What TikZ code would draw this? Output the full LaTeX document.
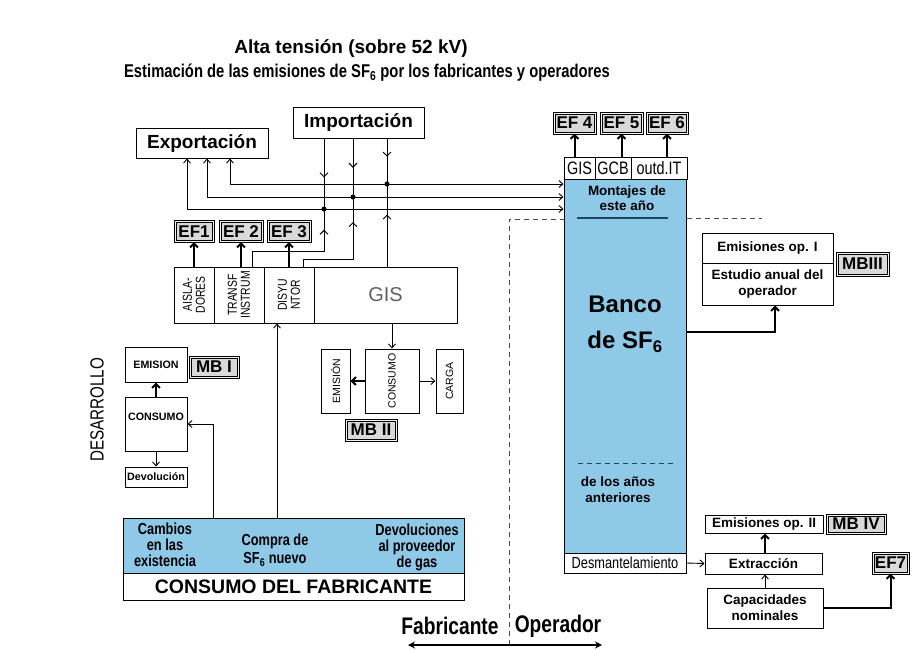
\documentclass[tikz,border=0pt]{standalone}
\usepackage{fontspec}
\setmainfont{Liberation Sans}
\newfontfamily\cnd{Liberation Sans}[FakeStretch=0.8]
\usetikzlibrary{arrows.meta,decorations.markings}
\definecolor{bankblue}{RGB}{142,201,232}
\definecolor{linedark}{RGB}{30,70,100}
\newcommand\fsz[2]{\fontsize{#1}{#2}\selectfont}
\tikzset{
  box/.style={draw, line width=1pt, inner sep=0pt},
  efbox/.style={draw, line width=1.1pt, double=gray!10, double distance=0.8pt, fill=gray!30, inner sep=0pt, minimum height=20pt, font=\bfseries\fsz{17}{17}},
  arr/.style={-{Straight Barb[length=4pt,width=7pt]}, line width=0.9pt},
  thickarr/.style={-{Straight Barb[length=4pt,width=8pt]}, line width=2pt},
  biarr/.style={{Straight Barb[length=4pt,width=7pt]}-{Straight Barb[length=4pt,width=7pt]}, line width=0.9pt},
  midarr/.style={postaction={decorate}, decoration={markings, mark=at position #1 with {\arrow{Straight Barb[length=4pt,width=8pt]}}}},
  dot/.style={circle, fill, inner sep=0pt, minimum size=5pt},
  sep/.style={dash pattern=on 5pt off 4pt, line width=1pt, gray!60!black}
}
\begin{document}
\begin{tikzpicture}[x=1pt,y=-1pt, font=\bfseries\fsz{12}{14}]
\useasboundingbox (0,0) rectangle (912,649);

% titles
\node[font=\bfseries\fsz{19}{21}] (title) at (351,48) {Alta tensión (sobre 52 kV)};
\node[font=\cnd\bfseries\fsz{18.5}{21}] (subtitle) at (367,73) {Estimación de las emisiones de SF\textsubscript{6} por los fabricantes y operadores};

% import / export
\node[box, minimum width=132pt, minimum height=30pt, font=\bfseries\fsz{19}{21}] (exp) at (202,143) {Exportación};
\node[box, minimum width=131pt, minimum height=31pt, font=\bfseries\fsz{19}{21}] (imp) at (358.5,122.5) {Importación};

% manufacturer blocks
\node[box, minimum width=40pt, minimum height=56pt] (aisl) at (194,295) {};
\node[box, minimum width=50pt, minimum height=56pt] (trans) at (239,295) {};
\node[box, minimum width=50pt, minimum height=56pt] (disy) at (289,295) {};
\node[box, minimum width=143pt, minimum height=56pt, font=\fsz{20}{20}, text=gray!75!black] (gis) at (385.5,295) {GIS};
\node[rotate=90, align=center, font=\cnd\fsz{13}{13}] (aisltxt) at (aisl) {AISLA-\\DORES};
\node[rotate=90, align=center, font=\cnd\fsz{13}{13}] (transtxt) at (trans) {TRANSF\\INSTRUM};
\node[rotate=90, align=center, font=\cnd\fsz{13}{13}] (disytxt) at (disy) {DISYU\\NTOR};

\node[efbox, minimum width=38pt] (efone) at (194,231.5) {EF1};
\node[efbox, minimum width=42pt] (eftwo) at (241,231.5) {EF 2};
\node[efbox, minimum width=42pt] (efthree) at (289,231.5) {EF 3};
\draw[thickarr] (aisl.north) -- (efone.south);
\draw[thickarr] (trans.north -| eftwo.south) -- (eftwo.south);
\draw[thickarr] (disy.north) -- (efthree.south);

% bank of SF6
\node[box, fill=bankblue, minimum width=122pt, minimum height=374pt] (bank) at (625,366) {};
\node[box, minimum width=31pt, minimum height=22pt, font=\cnd\fsz{18}{18}] (hgis) at (579.5,168) {GIS};
\node[box, minimum width=36pt, minimum height=22pt, font=\cnd\fsz{18}{18}] (hgcb) at (613,168) {GCB};
\node[box, minimum width=56pt, minimum height=22pt, font=\cnd\fsz{18}{18}] (hout) at (659,168) {outd.IT};
\node[box, fill=white, minimum width=122pt, minimum height=20pt, font=\cnd\fsz{16}{16}] (desm) at (625,563) {Desmantelamiento};
\node[align=center, font=\bfseries\fsz{13.5}{15.5}] (montajes) at (627,198) {Montajes de\\este año};
\node[align=center, font=\bfseries\fsz{24}{36}] (banco) at (625,324) {Banco\\de SF\textsubscript{6}};
\node[align=center, font=\bfseries\fsz{13.5}{16}] (anteriores) at (618,490) {de los años\\anteriores};
\draw[line width=1.3pt, linedark] (577,218) -- (668,218);
\draw[sep, linedark] (578,463) -- (675,463);

\node[efbox, minimum width=41pt] (effour) at (574.5,123) {EF 4};
\node[efbox, minimum width=41pt] (effive) at (621.5,123) {EF 5};
\node[efbox, minimum width=40pt] (efsix) at (667,123) {EF 6};
\draw[thickarr] (hgis.north -| effour.south) -- (effour.south);
\draw[thickarr] (hgcb.north -| effive.south) -- (effive.south);
\draw[thickarr] (hout.north -| efsix.south) -- (efsix.south);

% import / export lines
\coordinate (ca) at (324,209);
\coordinate (cb) at (353,197);
\coordinate (cc) at (387,184);
\draw[biarr] (exp.south -| 230,0) |- (cc -| bank.west);
\draw[biarr] (exp.south -| 207,0) |- (cb -| bank.west);
\draw[biarr] (exp.south -| 187,0) |- (ca -| bank.west);
\draw[line width=0.9pt, midarr=0.55] (imp.south -| ca) -- (ca);
\draw[line width=0.9pt, midarr=0.5] (imp.south -| cb) -- (cb);
\draw[line width=0.9pt, midarr=0.4] (imp.south -| cc) -- (cc);
\draw[line width=0.9pt, midarr=0.84] (trans.north -| 252,0) -- ++(0,-15) -| (ca);
\draw[line width=0.9pt, midarr=0.79] (disy.north -| 303,0) -- ++(0,-7) -| (cb);
\draw[line width=0.9pt, midarr=0.63] (gis.north -| cc) -- (cc);
\node[dot] (da) at (ca) {};
\node[dot] (db) at (cb) {};
\node[dot] (dc) at (cc) {};

% development
\node[rotate=90, font=\cnd\fsz{19}{19}] (desarrollo) at (97,410) {DESARROLLO};
\node[box, minimum width=62pt, minimum height=35pt, font=\bfseries\fsz{10.7}{10.7}] (emis) at (156,364.5) {EMISION};
\node[box, minimum width=62pt, minimum height=54pt, font=\bfseries\fsz{10.7}{10.7}, text depth=14pt] (cons) at (156,424) {CONSUMO};
\node[box, minimum width=62pt, minimum height=20pt, font=\bfseries\fsz{10.7}{10.7}] (devol) at (156,477) {Devolución};
\node[efbox, minimum width=48pt, minimum height=20pt] (mbone) at (214,367) {MB I};
\draw[thickarr] (cons.north) -- (emis.south);
\draw[arr] (cons.south) -- (devol.north);

% manufacturer consumption
\node[box, fill=bankblue, minimum width=341pt, minimum height=55pt] (fabtop) at (293.5,545.5) {};
\node[box, minimum width=341pt, minimum height=27pt, font=\bfseries\fsz{19.5}{21}] (fabbot) at (293.5,586.5) {CONSUMO DEL FABRICANTE};
\node[align=center, font=\cnd\bfseries\fsz{16}{16}] (cambios) at (165,545) {Cambios\\en las\\existencia};
\node[align=center, font=\cnd\bfseries\fsz{16}{18}] (compra) at (275,550) {Compra de\\SF\textsubscript{6} nuevo};
\node[align=center, font=\cnd\bfseries\fsz{16}{16}] (devprov) at (417,547) {Devoluciones\\al proveedor\\de gas};
\draw[arr] (fabtop.north -| 277,0) -- (disy.south -| 277,0);
\draw[arr] (fabtop.north -| 213,0) |- (cons.east);

% GIS consumption
\node[box, minimum width=54pt, minimum height=64pt] (ccons) at (392,381) {};
\node[box, minimum width=29pt, minimum height=64pt] (cemis) at (335.5,381) {};
\node[box, minimum width=27pt, minimum height=64pt] (ccarga) at (449.5,381) {};
\node[rotate=90, font=\fsz{10.5}{10.5}] (cconstxt) at (ccons) {CONSUMO};
\node[rotate=90, font=\fsz{10.5}{10.5}] (cemistxt) at (cemis) {EMISIÓN};
\node[rotate=90, font=\fsz{10.5}{10.5}] (ccargatxt) at (ccarga) {CARGA};
\node[efbox, minimum width=50pt, minimum height=20pt] (mbtwo) at (371,430) {MB II};
\draw[arr] (gis.south -| ccons.north) -- (ccons.north);
\draw[thickarr] (ccons.west) -- (cemis.east);
\draw[arr] (ccons.east) -- (ccarga.west);

% operator
\node[box, minimum width=131pt, minimum height=30pt, font=\bfseries\fsz{13.5}{15}] (oponea) at (767.5,248) {Emisiones op. I};
\node[box, minimum width=131pt, minimum height=42pt, align=center, font=\bfseries\fsz{13.5}{16}] (oponeb) at (767.5,284) {Estudio anual del\\operador};
\node[efbox, minimum width=51pt, minimum height=22pt] (mbthree) at (862.5,264) {MBIII};
\draw[thickarr] (bank.east |- 0,332) -| (oponeb.south -| 775,0);

\node[box, minimum width=118pt, minimum height=18pt, font=\bfseries\fsz{13.5}{13.5}] (optwo) at (764,524) {Emisiones op. II};
\node[efbox, minimum width=58pt, minimum height=18pt] (mbfour) at (856,524) {MB IV};
\node[box, minimum width=117pt, minimum height=21pt, font=\bfseries\fsz{13.5}{13.5}] (extr) at (763.5,563.5) {Extracción};
\node[box, minimum width=116pt, minimum height=40pt, align=center, font=\bfseries\fsz{13.5}{16}] (capac) at (765,608) {Capacidades\\nominales};
\node[efbox, minimum width=35pt, minimum height=20pt] (efseven) at (890.5,563) {EF7};
\draw[arr] (desm.east) -- (extr.west);
\draw[thickarr] (extr.north -| 765,0) -- (optwo.south -| 765,0);
\draw[arr] (capac.north) -- (extr.south -| capac.north);
\draw[thickarr] (capac.east) -| (efseven.south);

% manufacturer / operator boundary
\draw[sep] (509,645) -- (509,219) -- (bank.west |- 0,219);
\draw[sep] (bank.east |- 0,218) -- (762,218);
\node[font=\cnd\bfseries\fsz{24}{24}] (fabr) at (450,626) {Fabricante};
\node[font=\cnd\bfseries\fsz{24}{24}] (oper) at (558,626) {Operador};
\coordinate (fl) at (408,645);
\coordinate (fr) at (602,645);
\draw[{Stealth[length=7pt,width=7pt]}-{Stealth[length=7pt,width=7pt]}, line width=1.6pt] (fl) -- (fr);
\end{tikzpicture}
\end{document}
